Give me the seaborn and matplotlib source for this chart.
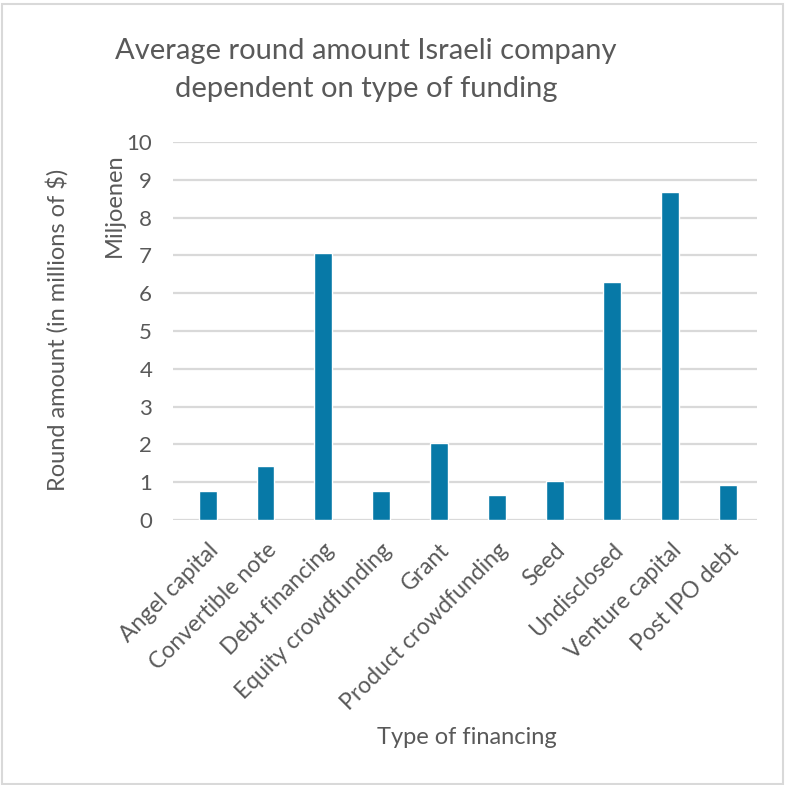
import matplotlib
matplotlib.use("Agg")
import matplotlib.pyplot as plt
import seaborn as sns
import pandas as pd
from matplotlib.patches import Rectangle

categories = [
    "Angel capital", "Convertible note", "Debt financing", "Equity crowdfunding",
    "Grant", "Product crowdfunding", "Seed", "Undisclosed", "Venture capital",
    "Post IPO debt",
]
avg_round_millions = [0.77, 1.43, 7.07, 0.77, 2.05, 0.66, 1.03, 6.30, 8.68, 0.93]
y_ticks = [0, 1, 2, 3, 4, 5, 6, 7, 8, 9, 10]

df = pd.DataFrame({"type": categories, "amount": avg_round_millions})

sns.set_theme(style="white")
plt.rcParams["font.family"] = ["Lato", "DejaVu Sans"]

text_gray = "#595959"
grid_gray = "#d9d9d9"
bar_color = "#0779a7"

fig = plt.figure(figsize=(7.85, 7.85), dpi=100)
ax = fig.add_axes([173 / 785, 1 - 520 / 785, (757 - 173) / 785, (520 - 142) / 785])

sns.barplot(data=df, x="type", y="amount", color=bar_color, width=0.31,
            saturation=1, ax=ax, zorder=3)

ax.set_ylim(0, 10)
ax.set_xlim(-0.6, len(categories) - 0.5)
ax.set_yticks(y_ticks)
ax.set_yticklabels([str(t) for t in y_ticks])
for t in y_ticks:
    ax.axhline(t, color=grid_gray, lw=1.6, zorder=1)
for s in ax.spines.values():
    s.set_visible(False)

ax.tick_params(axis="y", length=0, pad=15, labelsize=16, labelcolor=text_gray)
ax.tick_params(axis="x", length=0, pad=14, labelsize=16.5, labelcolor=text_gray)
plt.setp(ax.get_xticklabels(), rotation=45, ha="right", rotation_mode="anchor")

ax.set_xlabel("")
ax.set_ylabel("")

fig.text(467 / 785, 1 - 738 / 785, "Type of financing", ha="center", va="center",
         fontsize=17, color=text_gray)
fig.text(57 / 785, 1 - 330 / 785, "Round amount (in millions of $)", ha="center",
         va="center", rotation=90, fontsize=17, color=text_gray)
fig.text(114 / 785, 1 - 205 / 785, "Miljoenen", ha="center", va="center",
         rotation=90, fontsize=17, color=text_gray)
fig.text(366 / 785, 1 - 70 / 785,
         "Average round amount Israeli company\ndependent on type of funding",
         ha="center", va="center", fontsize=21, color=text_gray, linespacing=1.55)

fig.patches.append(Rectangle((2 / 785, 1 / 785), 781 / 785, 780 / 785,
                             transform=fig.transFigure, fill=False,
                             edgecolor=grid_gray, lw=1.5))

fig.savefig("out.png", dpi=100)
